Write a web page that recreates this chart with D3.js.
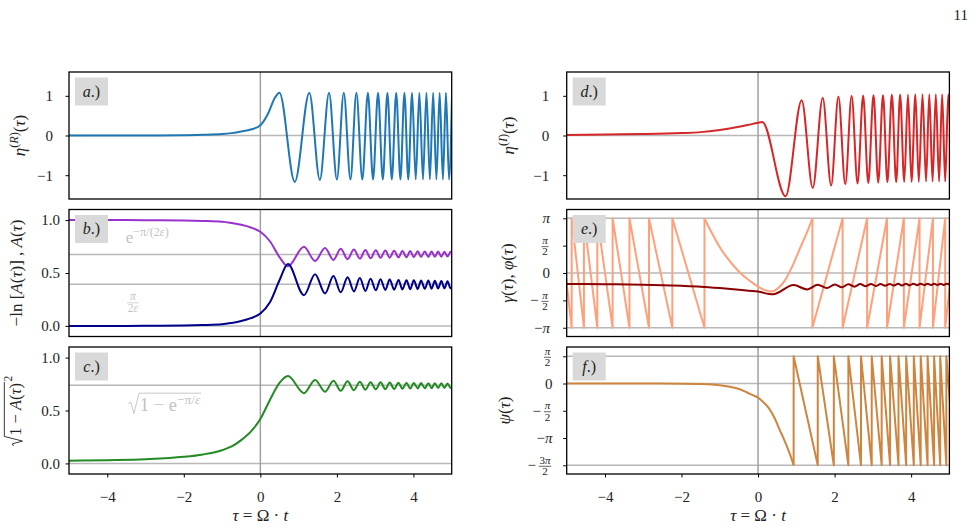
<!DOCTYPE html>
<html>
<head>
<meta charset="utf-8">
<script src="https://cdn.jsdelivr.net/npm/d3@7"></script>
<style>
body { margin: 0; background: #fff; }
svg text { font-family: "Liberation Serif", "DejaVu Serif", serif; }
</style>
</head>
<body>
<svg id="fig" width="978" height="529"></svg>
<script>
// ---------------- data ----------------
var xDomain = [-5, 5];
var xTicks = [-4, -2, 0, 2, 4];

// a.) eta^(R)
var tau_a = [-5, -3, -2, -1.5, -1, -0.75, -0.5, -0.25, 0, 0.2, 0.38, 0.5,
  0.90, 1.28, 1.555, 1.795, 2.0, 2.18, 2.355, 2.51, 2.665, 2.81, 2.945, 3.075, 3.20, 3.32,
  3.435, 3.55, 3.66, 3.765, 3.865, 3.965, 4.06, 4.155, 4.25, 4.34, 4.43, 4.515, 4.60, 4.685,
  4.77, 4.85, 4.93, 5.01];
var eta_R = [0, 0.002, 0.008, 0.016, 0.035, 0.06, 0.10, 0.15, 0.26, 0.55, 0.95, 1.08,
  -1.17, 1.08, -1.12, 1.08, -1.11, 1.08, -1.11, 1.08, -1.11, 1.08, -1.11, 1.08, -1.11, 1.08,
  -1.11, 1.08, -1.11, 1.08, -1.11, 1.08, -1.11, 1.08, -1.11, 1.08, -1.11, 1.08, -1.11, 1.08,
  -1.11, 1.08, -1.11, 1.08];

// shared extrema positions of the late oscillations (b, c, d)
var tau_osc = [0.72, 1.14, 1.43, 1.69, 1.91, 2.10, 2.28, 2.445, 2.60, 2.746, 2.88, 3.017,
  3.14, 3.265, 3.38, 3.496, 3.61, 3.712, 3.82, 3.917, 4.01, 4.111, 4.20, 4.297, 4.39, 4.474,
  4.56, 4.645, 4.73, 4.81, 4.89, 4.97, 5.05];

// d.) eta^(I)
var tau_d_pre = [-5, -4, -3, -2, -1.5, -1, -0.5, -0.25, 0, 0.11];
var eta_I = [0.015, 0.025, 0.035, 0.06, 0.085, 0.14, 0.22, 0.27, 0.32, 0.34,
  -1.53, 0.89, -1.32, 0.95, -1.26, 0.98, -1.23, 1.00, -1.21, 1.01, -1.20, 1.02, -1.19, 1.02,
  -1.18, 1.03, -1.18, 1.03, -1.17, 1.03, -1.17, 1.04, -1.17, 1.04, -1.16, 1.04, -1.16, 1.04,
  -1.16, 1.04, -1.16, 1.04, -1.16];

// b.) A and -ln A ; c.) sqrt(1-A^2)
var tau_b_pre = [-5, -4, -3, -2, -1.5, -1, -0.75, -0.5, -0.25, 0, 0.25, 0.5];
var A_tau = [1.0, 1.0, 0.999, 0.996, 0.992, 0.985, 0.972, 0.955, 0.93, 0.89, 0.80, 0.65,
  0.563, 0.748, 0.614, 0.736, 0.624, 0.728, 0.631, 0.722, 0.636, 0.718, 0.640, 0.714, 0.643,
  0.712, 0.645, 0.710, 0.647, 0.708, 0.649, 0.707, 0.650, 0.705, 0.651, 0.704, 0.652, 0.703,
  0.653, 0.702, 0.654, 0.701, 0.655, 0.701, 0.655];
var minus_lnA = [0, 0, 0.001, 0.004, 0.008, 0.015, 0.028, 0.046, 0.073, 0.117, 0.223, 0.431,
  0.585, 0.290, 0.488, 0.307, 0.472, 0.317, 0.460, 0.326, 0.452, 0.331, 0.446, 0.337, 0.442,
  0.340, 0.439, 0.342, 0.435, 0.345, 0.432, 0.347, 0.431, 0.350, 0.429, 0.351, 0.428, 0.352,
  0.426, 0.354, 0.425, 0.355, 0.423, 0.355, 0.423];
var sqrt_1mA2 = [0.025, 0.031, 0.040, 0.062, 0.085, 0.125, 0.16, 0.22, 0.30, 0.42, 0.60, 0.76,
  0.826, 0.664, 0.789, 0.677, 0.781, 0.686, 0.776, 0.692, 0.772, 0.696, 0.768, 0.700, 0.766,
  0.702, 0.764, 0.704, 0.762, 0.706, 0.761, 0.707, 0.760, 0.709, 0.759, 0.710, 0.758, 0.711,
  0.757, 0.712, 0.757, 0.713, 0.756, 0.713, 0.756];
var b_levels = [0, 0.393, 0.675];
var c_levels = [0, 0.738];

// e.) gamma (wrapped) and phi, in units of pi
var gamma_wrapL = [-4.87, -4.55, -4.20, -3.80, -3.36, -2.85, -2.24, -1.40];
var gamma_wrapR = [1.42, 2.21, 2.85, 3.37, 3.81, 4.22, 4.57, 4.89];
var gamma_ends = [0.12, 0.0];
var tau_gammaU = [-1.40, -1.2, -1.0, -0.8, -0.6, -0.4, -0.2, 0, 0.2, 0.35, 0.5, 0.7, 0.9, 1.1, 1.3, 1.42];
var gammaU = [1, 0.72, 0.47, 0.27, 0.10, -0.04, -0.15, -0.25, -0.32, -0.34, -0.29, -0.14, 0.13, 0.46, 0.78, 1];
var tau_phi = [-5, -4, -3, -2, -1.5, -1, -0.5, 0, 0.39,
  0.93, 1.285, 1.56, 1.80, 2.005, 2.19, 2.36, 2.52, 2.67, 2.81, 2.95, 3.08, 3.20, 3.32, 3.44,
  3.55, 3.66, 3.76, 3.87, 3.96, 4.06, 4.155, 4.25, 4.345, 4.43, 4.52, 4.60, 4.69, 4.77, 4.85,
  4.93, 5.01];
var phi = [-0.200, -0.205, -0.215, -0.235, -0.25, -0.275, -0.305, -0.34, -0.39,
  -0.22, -0.30, -0.215, -0.275, -0.21, -0.26, -0.205, -0.25, -0.203, -0.243, -0.201, -0.237,
  -0.200, -0.233, -0.199, -0.230, -0.198, -0.227, -0.197, -0.225, -0.196, -0.223, -0.196,
  -0.221, -0.195, -0.220, -0.195, -0.219, -0.195, -0.218, -0.195, -0.217];
var e_levels = [-1, 0, 1];
var e_ticks = [-1, -0.5, 0, 0.5, 1];
var e_tickLabels = ["−π", "−π/2", "0", "π/2", "π"];

// f.) psi, in units of pi
var tau_psi = [-5, -3, -2, -1.5, -1.17, -1.0, -0.73, -0.5, -0.3, -0.15, 0, 0.15, 0.30, 0.45, 0.56, 0.68, 0.78, 0.86, 0.93];
var psi = [0, 0, -0.003, -0.008, -0.02, -0.03, -0.06, -0.10, -0.16, -0.21, -0.26, -0.35, -0.47, -0.66, -0.84, -1.03, -1.20, -1.35, -1.5];
var psi_wrap = [0.93, 1.56, 1.98, 2.36, 2.69, 2.97, 3.23, 3.45, 3.67, 3.87, 4.07, 4.25, 4.43, 4.60, 4.76, 4.92];
var psi_end = -0.68;
var f_levels = [-1.5, 0, 0.5];
var f_ticks = [-1.5, -1, -0.5, 0, 0.5];
var f_tickLabels = ["−3π/2", "−π", "−π/2", "0", "π/2"];

// ---------------- layout ----------------
var svg = d3.select("#fig");
var colX = [69, 566.7], panelW = 382.7;
var rowY = [72, 209.5, 347], panelH = 127;
var serif = '"Liberation Serif", "DejaVu Serif", serif';
var textCol = "#222";
var tickFont = 15, labelFont = 17;

function makePanel(col, row, ydom, tag) {
    var x = d3.scaleLinear().domain(xDomain).range([colX[col], colX[col] + panelW]);
    var y = d3.scaleLinear().domain(ydom).range([rowY[row] + panelH, rowY[row]]);
    svg.append("clipPath").attr("id", "clip" + tag).append("rect")
        .attr("x", colX[col]).attr("y", rowY[row])
        .attr("width", panelW).attr("height", panelH);
    var plot = svg.append("g").attr("clip-path", "url(#clip" + tag + ")");
    return { x: x, y: y, plot: plot, col: col, row: row, tag: tag };
}

function levels(p, vals) {
    p.plot.selectAll(null).data(vals).enter().append("line")
        .attr("x1", colX[p.col]).attr("x2", colX[p.col] + panelW)
        .attr("y1", d => p.y(d)).attr("y2", d => p.y(d))
        .attr("stroke", "#b8b8b8").attr("stroke-width", 1.5);
    p.plot.append("line")
        .attr("x1", p.x(0)).attr("x2", p.x(0))
        .attr("y1", rowY[p.row]).attr("y2", rowY[p.row] + panelH)
        .attr("stroke", "#a0a0a0").attr("stroke-width", 1.5);
}

function curve(p, xs, ys, color, kind) {
    var pts = xs.map((t, i) => [t, ys[i]]);
    var line = d3.line().x(d => p.x(d[0])).y(d => p.y(d[1])).curve(kind || d3.curveMonotoneX);
    p.plot.append("path").datum(pts)
        .attr("d", line)
        .attr("fill", "none")
        .attr("stroke", color)
        .attr("stroke-width", 2)
        .attr("stroke-linejoin", "round");
}

function rich(sel, parts, size) {
    var shift = 0;
    parts.forEach(function (q) {
        var target = q.sup ? -size * 0.42 : 0;
        var ts = sel.append("tspan").text(q.t).attr("dy", target - shift);
        shift = target;
        if (q.it) ts.attr("font-style", "italic");
        if (q.sup) ts.attr("font-size", size * 0.72);
    });
}

function tagBox(p, letter) {
    var bx = colX[p.col] + 6, by = rowY[p.row] + 5.5;
    svg.append("rect").attr("x", bx).attr("y", by).attr("width", 33).attr("height", 28)
        .attr("fill", "#d9d9d9");
    var t = svg.append("text").attr("x", bx + 16.5).attr("y", by + 19)
        .attr("text-anchor", "middle").attr("font-size", 16).attr("fill", textCol);
    rich(t, [{ t: letter, it: true }, { t: ".)" }], 16);
}

function frame(p) {
    svg.append("rect").attr("x", colX[p.col]).attr("y", rowY[p.row])
        .attr("width", panelW).attr("height", panelH)
        .attr("fill", "none").attr("stroke", "#000").attr("stroke-width", 1.3);
}

var minusFmt = d => (d < 0 ? "−" : "") + Math.abs(d);
function yAxis(p, vals, fmt, pad) {
    var ax = d3.axisLeft(p.y).tickValues(vals).tickFormat(fmt)
        .tickSizeInner(3.5).tickSizeOuter(0).tickPadding(pad);
    var g = svg.append("g").attr("transform", "translate(" + colX[p.col] + ",0)").call(ax);
    g.select(".domain").remove();
    g.attr("font-family", serif).attr("font-size", tickFont);
    g.selectAll("line").attr("stroke", "#000").attr("stroke-width", 1);
    g.selectAll("text").attr("fill", textCol);
    return g;
}

function xAxis(p) {
    var ax = d3.axisBottom(p.x).tickValues(xTicks).tickFormat(minusFmt)
        .tickSizeInner(3.5).tickSizeOuter(0).tickPadding(6);
    var g = svg.append("g").attr("transform", "translate(0," + (rowY[p.row] + panelH) + ")").call(ax);
    g.select(".domain").remove();
    g.attr("font-family", serif).attr("font-size", tickFont);
    g.selectAll("line").attr("stroke", "#000").attr("stroke-width", 1);
    g.selectAll("text").attr("fill", textCol).attr("dy", "1.2em");
    var t = svg.append("text").attr("x", p.x(0)).attr("y", 521)
        .attr("text-anchor", "middle").attr("font-size", labelFont).attr("fill", textCol);
    rich(t, [{ t: "τ", it: true }, { t: " = Ω · " }, { t: "t", it: true }], labelFont);
}

function yLabel(cx, p, parts) {
    var cy = rowY[p.row] + panelH / 2;
    var t = svg.append("text")
        .attr("transform", "translate(" + cx + "," + cy + ") rotate(-90)")
        .attr("text-anchor", "middle").attr("y", 6).attr("font-size", labelFont).attr("fill", textCol);
    rich(t, parts, labelFont);
}

// stacked fraction, centred at (cx, bar y)
function frac(g, cx, yb, num, den, size, color) {
    var t1 = g.append("text").attr("x", cx).attr("y", yb - size * 0.22)
        .attr("text-anchor", "middle").attr("font-size", size).attr("fill", color);
    rich(t1, num, size);
    var t2 = g.append("text").attr("x", cx).attr("y", yb + size * 0.8)
        .attr("text-anchor", "middle").attr("font-size", size).attr("fill", color);
    rich(t2, den, size);
    var w = Math.max(t1.node().getComputedTextLength(), t2.node().getComputedTextLength()) + 1.5;
    g.append("line").attr("x1", cx - w / 2).attr("x2", cx + w / 2)
        .attr("y1", yb).attr("y2", yb).attr("stroke", color).attr("stroke-width", 0.7);
    return w;
}

function piParts(s) {
    return s.split("").map(ch => ({ t: ch, it: ch === "π" }));
}

function piTicks(p, vals, labels, xEnd) {
    var g = svg.append("g");
    vals.forEach(function (v, i) {
        var yc = p.y(v), lab = labels[i];
        var neg = lab[0] === "−", body = neg ? lab.slice(1) : lab;
        if (body.indexOf("/") >= 0) {
            var nd = body.split("/");
            var wn = nd[0].length > 1 ? 14 : 9;
            var cx = xEnd - wn / 2 - 0.5;
            frac(g, cx, yc + 1, piParts(nd[0]), piParts(nd[1]), 11, textCol);
            if (neg) {
                g.append("text").attr("x", cx - wn / 2 - 2).attr("y", yc + 5)
                    .attr("text-anchor", "end").attr("font-size", tickFont).attr("fill", textCol).text("−");
            }
        } else {
            var t = g.append("text").attr("x", xEnd).attr("y", yc + 5)
                .attr("text-anchor", "end").attr("font-size", tickFont).attr("fill", textCol);
            rich(t, piParts(lab), tickFont);
        }
    });
}

// radical sign with overline over a run of text
function radical(g, x0, base, size, color, parts) {
    var radW = size * 0.62;
    var t = g.append("text").attr("x", x0 + radW).attr("y", base)
        .attr("font-size", size).attr("fill", color);
    rich(t, parts, size);
    var w = t.node().getComputedTextLength();
    var top = base - size * 0.98;
    g.append("path")
        .attr("d", "M" + x0 + "," + (base - size * 0.42) +
            "L" + (x0 + size * 0.13) + "," + (base - size * 0.5) +
            "L" + (x0 + size * 0.3) + "," + (base + size * 0.12) +
            "L" + (x0 + radW - size * 0.04) + "," + top +
            "L" + (x0 + radW + w + 1) + "," + top)
        .attr("fill", "none").attr("stroke", color).attr("stroke-width", 0.9);
    return radW + w;
}

// ---------------- panels ----------------
var pa = makePanel(0, 0, [-1.6, 1.6], "a");
var pb = makePanel(0, 1, [-0.1, 1.1], "b");
var pc = makePanel(0, 2, [-0.1, 1.1], "c");
var pd = makePanel(1, 0, [-1.6, 1.6], "d");
var pe = makePanel(1, 1, [-1.16, 1.16], "e");
var pf = makePanel(1, 2, [-1.66, 0.67], "f");

levels(pa, [0]);
levels(pb, b_levels);
levels(pc, c_levels);
levels(pd, [0]);
levels(pe, e_levels);
levels(pf, f_levels);

curve(pa, tau_a, eta_R, "#1f77b4");
curve(pd, tau_d_pre.concat(tau_osc), eta_I, "#d62728");
curve(pb, tau_b_pre.concat(tau_osc), A_tau, "#9932cc");
curve(pb, tau_b_pre.concat(tau_osc), minus_lnA, "#00008b");
curve(pc, tau_b_pre.concat(tau_osc), sqrt_1mA2, "#228b22");

// gamma: left falling saw-tooth, smooth bowl, right rising saw-tooth
var gl = [[-5.05, gamma_ends[0]]];
gamma_wrapL.forEach(w => { gl.push([w, -1]); gl.push([w, 1]); });
var gr = [];
gamma_wrapR.forEach(w => { gr.push([w, 1]); gr.push([w, -1]); });
gr.push([5.05, gamma_ends[1]]);
curve(pe, gl.map(d => d[0]), gl.map(d => d[1]), "#ffa07a", d3.curveLinear);
curve(pe, tau_gammaU, gammaU, "#ffa07a");
curve(pe, gr.map(d => d[0]), gr.map(d => d[1]), "#ffa07a", d3.curveLinear);
curve(pe, tau_phi, phi, "#8b0000");

// psi: smooth drop then falling saw-tooth
curve(pf, tau_psi, psi, "#cd853f");
var ps = [];
psi_wrap.forEach(w => {
    ps.push([w, -1.5]);
    ps.push([w, 0.5]);
});
ps.push([5.05, psi_end]);
curve(pf, ps.map(d => d[0]), ps.map(d => d[1]), "#cd853f", d3.curveLinear);

// annotations
var annCol = "#c2c2c2";
var tb = svg.append("text").attr("x", pb.x(-3.52)).attr("y", pb.y(0.675) - 11.5)
    .attr("font-size", 17).attr("fill", annCol);
rich(tb, [{ t: "e" }, { t: "−π/(2", sup: true }, { t: "ε", it: true, sup: true }, { t: ")", sup: true }], 17);
frac(svg.append("g"), pb.x(-3.33), pb.y(0.393) + 18.5, [{ t: "π", it: true }],
    [{ t: "2" }, { t: "ε", it: true }], 11.5, annCol);
radical(svg.append("g"), pc.x(-3.45), pc.y(0.738) + 26, 18.5, annCol,
    [{ t: "1 − e" }, { t: "−π/", sup: true }, { t: "ε", it: true, sup: true }]);

[[pa, "a"], [pb, "b"], [pc, "c"], [pd, "d"], [pe, "e"], [pf, "f"]].forEach(d => {
    tagBox(d[0], d[1]);
    frame(d[0]);
});

// axes
yAxis(pa, [-1, 0, 1], minusFmt, 12.5);
yAxis(pd, [-1, 0, 1], minusFmt, 13.9);
yAxis(pb, [0, 0.5, 1], d3.format(".1f"), 5.5);
yAxis(pc, [0, 0.5, 1], d3.format(".1f"), 5.5);
yAxis(pe, e_ticks, () => "", 0);
yAxis(pf, f_ticks, () => "", 0);
piTicks(pe, e_ticks, e_tickLabels, 550);
piTicks(pf, f_ticks, f_tickLabels, 552.5);
xAxis(pc);
xAxis(pf);

// axis labels
yLabel(19, pa, [{ t: "η", it: true }, { t: "(", sup: true }, { t: "R", it: true, sup: true },
    { t: ")", sup: true }, { t: "(" }, { t: "τ", it: true }, { t: ")" }]);
yLabel(16, pb, [{ t: "−ln [" }, { t: "A", it: true }, { t: "(" }, { t: "τ", it: true },
    { t: ")] , " }, { t: "A", it: true }, { t: "(" }, { t: "τ", it: true }, { t: ")" }]);
yLabel(508, pd, [{ t: "η", it: true }, { t: "(", sup: true }, { t: "I", it: true, sup: true },
    { t: ")", sup: true }, { t: "(" }, { t: "τ", it: true }, { t: ")" }]);
yLabel(507, pe, [{ t: "γ", it: true }, { t: "(" }, { t: "τ", it: true }, { t: "), " },
    { t: "φ", it: true }, { t: "(" }, { t: "τ", it: true }, { t: ")" }]);
yLabel(504, pf, [{ t: "ψ", it: true }, { t: "(" }, { t: "τ", it: true }, { t: ")" }]);

// c.) label: sqrt(1 - A(tau)^2), rotated
var cg = svg.append("g");
var cw = radical(cg, 0, 6, 16.5, textCol, [{ t: "1 − " }, { t: "A", it: true }, { t: "(" },
    { t: "τ", it: true }, { t: ")" }]);
cg.append("text").attr("x", cw + 1.5).attr("y", -2.5).attr("font-size", 11.5).attr("fill", textCol).text("2");
cg.attr("transform", "translate(14.5," + (rowY[2] + panelH / 2) + ") rotate(-90) translate(" + (-(cw + 8) / 2) + ",0)");

// page number
svg.append("text").attr("x", 968).attr("y", 20).attr("text-anchor", "end")
    .attr("font-size", 15).attr("fill", textCol).text("11");
</script>
</body>
</html>
